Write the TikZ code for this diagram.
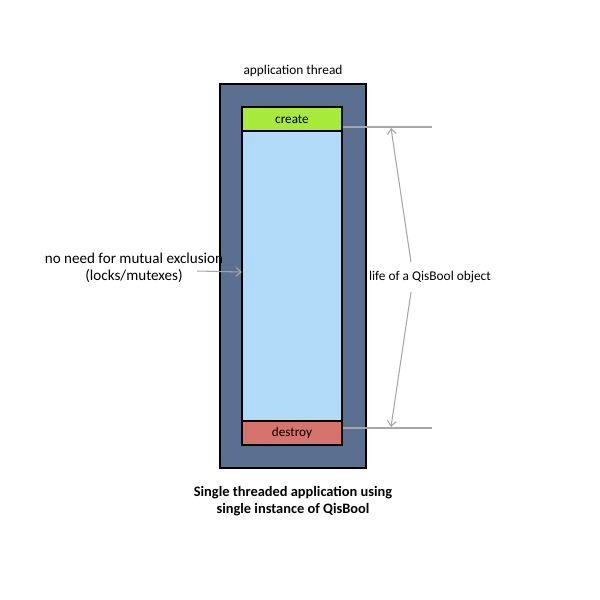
\documentclass[tikz,border=0pt]{standalone}
\usepackage{fontspec}
\setmainfont{Carlito}
\usepackage{xcolor}
\usetikzlibrary{arrows.meta,positioning,calc}

\definecolor{slate}{HTML}{5B7091}
\definecolor{lifeblue}{HTML}{B2DAF9}
\definecolor{creategreen}{HTML}{A8EA3C}
\definecolor{destroyred}{HTML}{D6736C}
\definecolor{guide}{HTML}{A6A6A6}

\begin{document}
\begin{tikzpicture}[
  x=0.02cm, y=-0.02cm,
  thread/.style={draw=black, line width=1.6pt, fill=slate, minimum width=2.92cm, minimum height=7.68cm, inner sep=0pt},
  phase/.style={draw=black, line width=0.6pt, minimum width=2cm, minimum height=0.48cm, inner sep=0pt, font=\fontsize{7.5}{8}\selectfont},
  life/.style={draw=black, line width=0.6pt, fill=lifeblue, minimum width=2cm, minimum height=5.8cm, inner sep=0pt},
  lab/.style={font=\fontsize{7.6}{9}\selectfont, align=center, inner sep=1pt},
  guideline/.style={draw=guide, line width=0.6pt},
  guidearrow/.style={draw=guide, line width=0.6pt, -{Straight Barb[length=3pt,width=5pt]}}
]
\useasboundingbox (0,0) rectangle (600,600);

\node[thread] (app) at (293,276) {};
\node[life] (obj) at (292,276) {};
\node[phase, fill=creategreen] (create) at (292,119) {create};
\node[phase, fill=destroyred] (destroy) at (292,433) {destroy};

\node[lab, above=0.7mm of app] (apptitle) {application thread};
\node[lab, font=\fontsize{8.2}{9.4}\selectfont\bfseries] (caption) at (293,501) {Single threaded application using\\single instance of QisBool};

% mutual exclusion note
\node[lab, font=\fontsize{8.6}{9.4}\selectfont] (note) at (134,268) {no need for mutual exclusion\\(locks/mutexes)};
\coordinate (notefoot) at (197,271);
\coordinate (notetip) at (242,272);
\draw[guidearrow] (notefoot) -- (notetip);

% object lifetime
\coordinate (topend) at (432,127);
\coordinate (botend) at (432,428);
\draw[guideline] (create.east |- topend) -- (topend);
\draw[guideline] (destroy.east |- botend) -- (botend);
\node[lab] (lifelab) at (430,277) {life of a QisBool object};
\draw[guidearrow] (411,262) -- (391,128);
\draw[guidearrow] (411,292) -- (391,427);
\end{tikzpicture}
\end{document}
